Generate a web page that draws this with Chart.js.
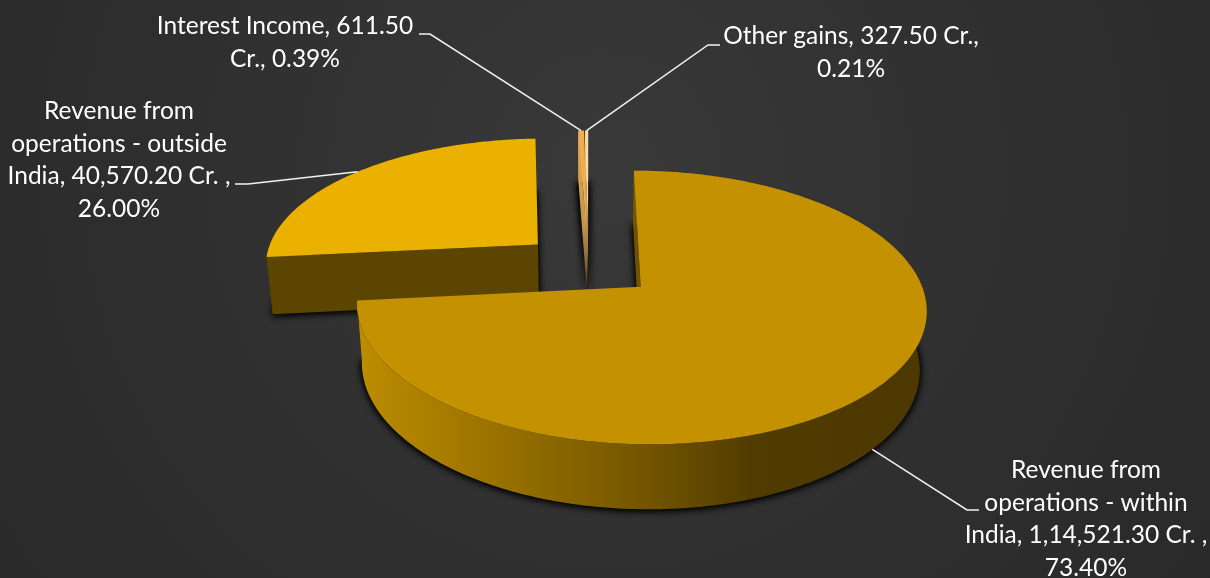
<!DOCTYPE html>
<html>
<head>
<meta charset="utf-8">
<style>
  html, body { margin: 0; padding: 0; background: #2f2f2f; }
  canvas { display: block; }
</style>
<script src="https://cdn.jsdelivr.net/npm/chart.js@4/dist/chart.umd.min.js"></script>
</head>
<body>
<canvas id="revenue" width="1210" height="578"></canvas>
<script>
const categories = [
  'Revenue from operations - within India',
  'Revenue from operations - outside India',
  'Interest Income',
  'Other gains'
];
const revenueCr = [114521.30, 40570.20, 611.50, 327.50];

const labelLines = [
  ['Revenue from', 'operations - within', 'India, 1,14,521.30 Cr. ,', '73.40%'],
  ['Revenue from', 'operations - outside', 'India, 40,570.20 Cr. ,', '26.00%'],
  ['Interest Income, 611.50', 'Cr., 0.39%'],
  ['Other gains, 327.50 Cr.,', '0.21%']
];
const topColors = ['#c49100', '#eab100', '#f0ad4c', '#f8dca8'];

// Label placement: text centre, first line centre, leader elbow and leader end beside the text.
const labelPlace = [
  { x: 1086, y: 470, elbow: [967, 510], end: [979, 510], onBase: true },
  { x: 119,  y: 111, elbow: [248, 184], end: [235, 184], onBase: false },
  { x: 285,  y: 26,  elbow: [430, 34],  end: [419, 34],  onBase: false },
  { x: 851,  y: 36,  elbow: [708, 45],  end: [720, 45],  onBase: false }
];

// Perspective of the tilted disc, in units of the pie radius.
const view = { sx: 1.295, sy: 0.60, sz: 0.277, k: 0.147, m: 0.02 };

function project(arc, u, v, z) {
  const R = arc.outerRadius;
  const d = 1 - view.k * v + view.m * z;
  return [arc.x + R * view.sx * u / d, arc.y + R * (view.sy * v + view.sz * z) / d];
}

// Point on a slice: radius r at angle a, pushed out along the slice's middle angle.
function slicePoint(arc, a, r, z) {
  const mid = (arc.startAngle + arc.endAngle) / 2;
  const e = arc.options.offset / arc.outerRadius;
  return project(arc, Math.cos(mid) * e + Math.cos(a) * r, Math.sin(mid) * e + Math.sin(a) * r, z);
}

function rimAngles(arc) {
  const out = [];
  const n = Math.max(2, Math.ceil((arc.endAngle - arc.startAngle) / 0.01));
  for (let i = 0; i <= n; i++) out.push(arc.startAngle + (arc.endAngle - arc.startAngle) * i / n);
  return out;
}

function outline(arc, z) {
  return [slicePoint(arc, 0, 0, z), ...rimAngles(arc).map(a => slicePoint(arc, a, 1, z))];
}

function fillPoly(ctx, pts, fill) {
  ctx.beginPath();
  pts.forEach((p, i) => i ? ctx.lineTo(p[0], p[1]) : ctx.moveTo(p[0], p[1]));
  ctx.closePath();
  ctx.fillStyle = fill;
  ctx.fill();
}

// Soft contact shadow thrown by the foot of a slice; repeated so thin feet still read.
function drawShadow(ctx, arc, i) {
  const base = outline(arc, 1);
  ctx.save();
  ctx.shadowColor = 'rgba(0,0,0,0.95)';
  ctx.shadowBlur = 7;
  ctx.shadowOffsetY = 1;
  for (let n = 0; n < (i > 1 ? 3 : 2); n++) fillPoly(ctx, base, '#0c0c0c');
  ctx.restore();
}

function drawSlice(ctx, arc, i) {
  const top = outline(arc, 0);
  const base = outline(arc, 1);
  const thin = i > 1;

  let wall, edge;
  if (i === 0) {
    wall = ctx.createLinearGradient(357, 0, 927, 0);
    wall.addColorStop(0, '#bd8c00');
    wall.addColorStop(0.25, '#987100');
    wall.addColorStop(0.5, '#745600');
    wall.addColorStop(0.7, '#503b00');
    wall.addColorStop(1, '#4c3800');
    edge = '#6e5200';
  } else if (i === 1) {
    wall = edge = '#5c4500';
  } else {
    wall = ctx.createLinearGradient(0, 130, 0, 288);
    wall.addColorStop(0, i === 2 ? '#e8ad55' : '#f0cf95');
    wall.addColorStop(0.6, '#c4944c');
    wall.addColorStop(1, '#5e4a2c');
    edge = wall;
  }

  // radial walls that face the viewer, then the curved outer wall
  if (thin || Math.cos(arc.startAngle) < 1e-6) fillPoly(ctx, [top[0], top[1], base[1], base[0]], edge);
  if (thin || Math.cos(arc.endAngle) > 1e-6) fillPoly(ctx, [top[0], top[top.length - 1], base[base.length - 1], base[0]], edge);
  fillPoly(ctx, [...top.slice(1), ...base.slice(1).reverse()], wall);

  fillPoly(ctx, top, arc.options.backgroundColor);
}

const tiltedPie = {
  id: 'tiltedPie',
  beforeDraw(chart) {
    const { ctx, width, height } = chart;
    const g = ctx.createRadialGradient(605, 170, 0, 605, 170, 760);
    g.addColorStop(0, '#393939');
    g.addColorStop(0.55, '#2f2f2f');
    g.addColorStop(1, '#292929');
    ctx.save();
    ctx.fillStyle = g;
    ctx.fillRect(0, 0, width, height);
    ctx.restore();
  },
  beforeDatasetDraw(chart, args) {
    const arcs = chart.getDatasetMeta(args.index).data;
    const order = [2, 3, 1, 0];
    order.forEach(i => drawShadow(chart.ctx, arcs[i], i));
    order.forEach(i => drawSlice(chart.ctx, arcs[i], i));
    return false;
  },
  afterDatasetsDraw(chart) {
    const { ctx } = chart;
    const arcs = chart.getDatasetMeta(0).data;
    ctx.save();
    ctx.strokeStyle = '#f2f2f2';
    ctx.lineWidth = 1.5;
    ctx.fillStyle = '#ffffff';
    ctx.font = '24.5px Lato';
    ctx.textAlign = 'center';
    ctx.textBaseline = 'middle';
    arcs.forEach((arc, i) => {
      const place = labelPlace[i];
      const mid = (arc.startAngle + arc.endAngle) / 2;
      const anchor = slicePoint(arc, mid, 1, place.onBase ? 1 : 0);
      ctx.beginPath();
      ctx.moveTo(anchor[0], anchor[1]);
      ctx.lineTo(place.elbow[0], place.elbow[1]);
      ctx.lineTo(place.end[0], place.end[1]);
      ctx.stroke();
      labelLines[i].forEach((line, n) => ctx.fillText(line, place.x, place.y + n * 32.7));
    });
    ctx.restore();
  }
};

new Chart(document.getElementById('revenue'), {
  type: 'pie',
  data: {
    labels: categories,
    datasets: [{
      data: revenueCr,
      backgroundColor: topColors,
      borderWidth: 0,
      offset: 53
    }]
  },
  options: {
    responsive: false,
    animation: false,
    radius: 212,
    layout: { padding: { right: 33, bottom: 48 } },
    plugins: { legend: { display: false }, tooltip: { enabled: false } }
  },
  plugins: [tiltedPie]
});
</script>
</body>
</html>
